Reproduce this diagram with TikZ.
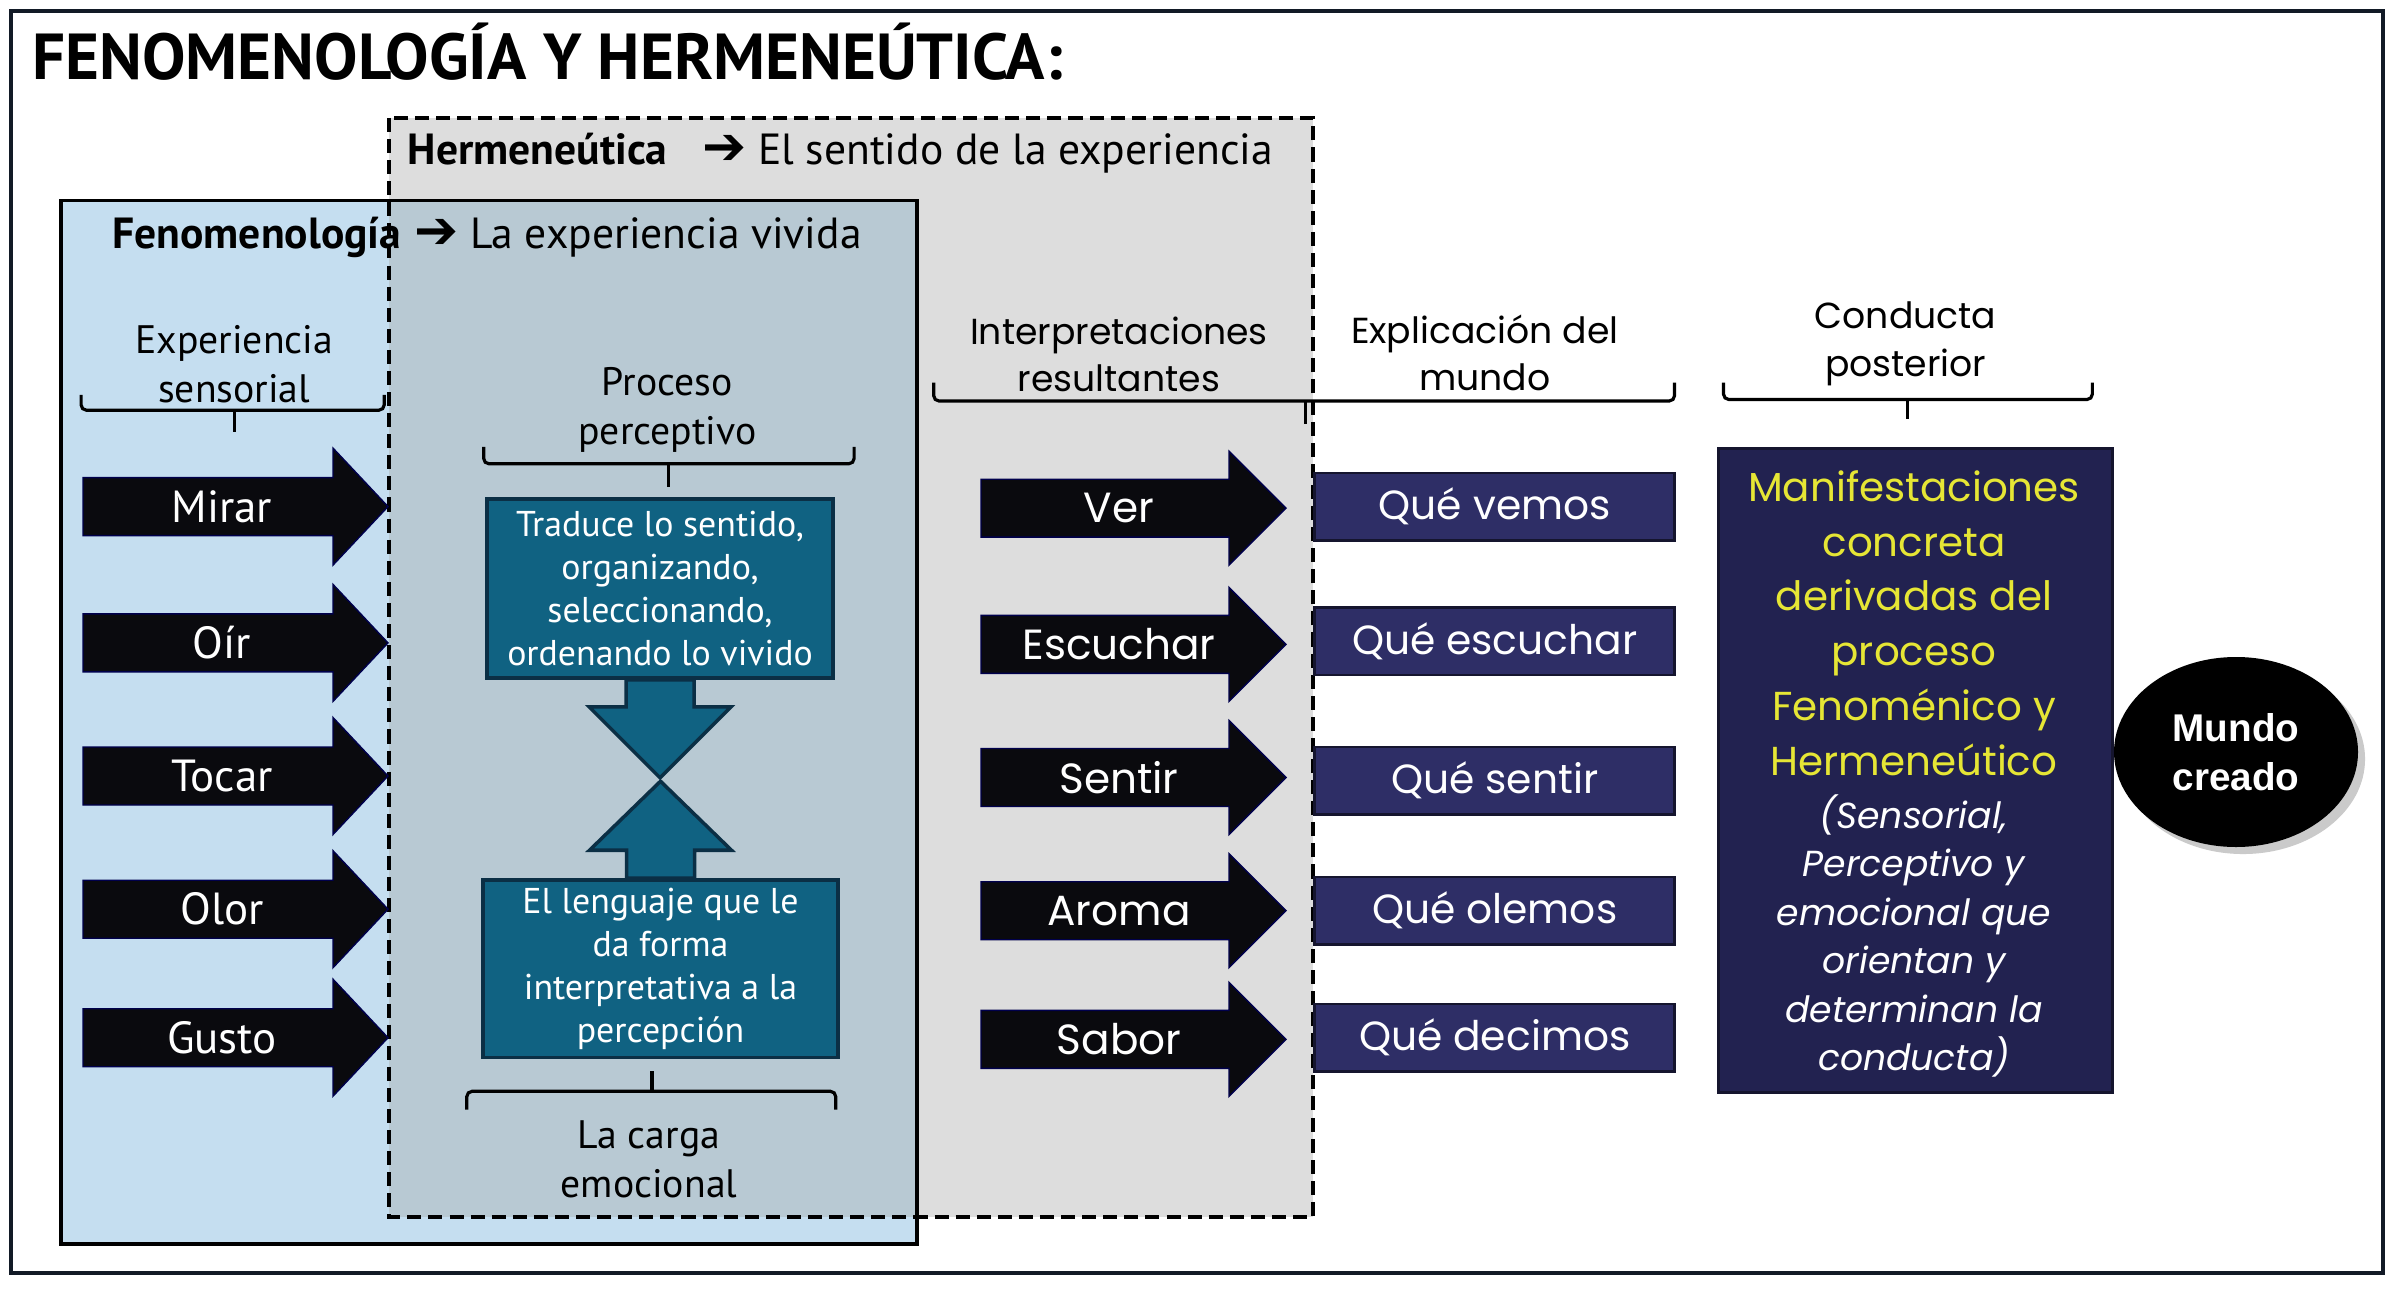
\documentclass[tikz,border=0pt]{standalone}
\usepackage{fontspec}
\setmainfont{PT Sans}
\newfontfamily\geofont{Poppins}
\newfontfamily\roundfont{Liberation Sans}
\newfontfamily\symfont{DejaVu Sans}
\usetikzlibrary{positioning,calc,shapes.geometric,shadows}
\definecolor{fenoblue}{HTML}{C5DEF0}
\definecolor{hermgray}{HTML}{DDDDDD}
\definecolor{overlapc}{HTML}{B8C9D3}
\definecolor{tealfill}{HTML}{106282}
\definecolor{tealedge}{HTML}{0B2F45}
\definecolor{navyfill}{HTML}{2E2E66}
\definecolor{navydeep}{HTML}{222250}
\definecolor{navyedge}{HTML}{15152E}
\definecolor{lemon}{HTML}{E6E635}
\definecolor{framec}{HTML}{121A26}
\definecolor{arrowc}{HTML}{0A0A0E}
\newcommand{\rarr}{{\symfont\fontsize{15}{15}\selectfont ➔}}

\tikzset{
  lbl/.style={align=center,inner sep=0pt,font=\fontsize{11.3}{13.9}\selectfont},
  geolbl/.style={align=center,inner sep=0pt,font=\geofont\fontsize{10.3}{13.6}\selectfont},
  sensetxt/.style={text=white,inner sep=0pt,font=\fontsize{12.8}{14}\selectfont},
  interptxt/.style={text=white,inner sep=0pt,font=\geofont\fontsize{12}{14}\selectfont},
  blockarrow/.style={fill=arrowc,draw=black!70!blue,line width=0.4pt},
  tealbox/.style={fill=tealfill,draw=tealedge,line width=1pt,text=white,align=center,
    inner sep=0pt,font=\fontsize{10.2}{12.2}\selectfont},
  tealshape/.style={fill=tealfill,draw=tealedge,line width=1pt},
  worldbox/.style={fill=navyfill,draw=navyedge,line width=0.8pt,text=white,
    font=\geofont\fontsize{11.6}{14}\selectfont,minimum width=3.597cm,minimum height=0.673cm,inner sep=0pt},
  bracket/.style={line width=0.9pt,rounded corners=1.5pt},
}

\begin{document}
\begin{tikzpicture}
\useasboundingbox (0,0) rectangle (24,-13.08);
\draw[line width=1.3pt,framec] (0.11,-0.11) rectangle (23.83,-12.73);

\node[anchor=base west,inner sep=0pt,font=\bfseries\fontsize{18.5}{20}\selectfont] (title) at (0.32,-0.80) {FENOMENOLOGÍA Y HERMENEÚTICA:};

% the two overlapping fields
\fill[hermgray] (3.888,-1.179) rectangle (13.13,-12.17);
\fill[fenoblue] (0.612,-2.005) rectangle (9.168,-12.44);
\fill[overlapc] (3.888,-2.005) rectangle (9.168,-12.17);
\draw[line width=1pt] (0.612,-2.005) rectangle (9.168,-12.44);
\draw[line width=1pt,dash pattern=on 4pt off 2pt] (3.888,-1.179) rectangle (13.13,-12.17);

\node[anchor=west,inner sep=0pt,font=\fontsize{12.4}{14}\selectfont] (hermhead) at (4.07,-1.53) {\textbf{Hermeneútica}\hspace{0.8em}\rarr{} El sentido de la experiencia};
\node[anchor=west,inner sep=0pt,font=\fontsize{12.4}{14}\selectfont] (fenohead) at (1.117,-2.37) {\textbf{Fenomenología}\hspace{0.3em}\rarr{} La experiencia vivida};

% column labels
\node[lbl] (expsens) at (2.342,-3.643) {Experiencia\\sensorial};
\node[lbl] (procper) at (6.673,-4.102) {Proceso\\perceptivo};
\node[lbl] (carga) at (6.490,-11.594) {La carga\\emocional};
\node[geolbl] (interp) at (11.189,-3.543) {Interpretaciones\\resultantes};
\node[geolbl] (explic) at (14.847,-3.528) {Explicación del\\mundo};
\node[geolbl] (conducta) at (19.056,-3.44) {Conducta\\posterior};

\draw[bracket] (0.811,-3.949) |- (3.842,-4.102) -- (3.842,-3.949);
\draw[bracket] (2.342,-4.102) -- (2.342,-4.316);
\draw[bracket] (4.837,-4.469) |- (8.541,-4.638) -- (8.541,-4.469);
\draw[bracket] (6.689,-4.638) -- (6.689,-4.867);
\draw[bracket] (4.668,-11.097) |- (8.357,-10.913) -- (8.357,-11.097);
\draw[bracket] (6.520,-10.913) -- (6.520,-10.714);
\draw[bracket] (9.337,-3.827) |- (16.745,-4.010) -- (16.745,-3.827);
\draw[bracket] (13.056,-4.010) -- (13.056,-4.240);
\draw[bracket] (17.235,-3.827) |- (20.923,-3.995) -- (20.923,-3.827);
\draw[bracket] (19.071,-3.995) -- (19.071,-4.194);

% senses
\foreach \yy/\word/\nm in {-5.066/Mirar/mirar,-6.429/Oír/oir,-7.760/Tocar/tocar,-9.092/Olor/olor,-10.377/Gusto/gusto}{
  \filldraw[blockarrow] (0.83,\yy+0.29) -- (3.33,\yy+0.29) -- (3.33,\yy+0.585) -- (3.88,\yy)
    -- (3.33,\yy-0.585) -- (3.33,\yy-0.29) -- (0.83,\yy-0.29) -- cycle;
  \node[sensetxt] (\nm) at (2.22,\yy) {\word};
}

% perceptual process
\node[tealbox,minimum width=3.46cm,minimum height=1.79cm] (traduce) at (6.60,-5.885)
  {Traduce lo sentido,\\organizando,\\seleccionando,\\ordenando lo vivido};
\node[tealbox,minimum width=3.55cm,minimum height=1.776cm] (lenguaje) at (6.605,-9.688)
  {El lenguaje que le\\da forma\\interpretativa a la\\percepción};
\filldraw[tealshape] ([xshift=-0.34cm]traduce.south) -- ++(0,-0.27) -- ++(-0.37,0) -- ++(0.71,-0.71)
  -- ++(0.71,0.71) -- ++(-0.37,0) -- ++(0,0.27) -- cycle;
\filldraw[tealshape] ([xshift=-0.34cm]lenguaje.north) -- ++(0,0.28) -- ++(-0.37,0) -- ++(0.71,0.69)
  -- ++(0.71,-0.69) -- ++(-0.37,0) -- ++(0,-0.28) -- cycle;

% interpretations and explanations
\foreach \yy/\word/\nm in {-5.082/Ver/ver,-6.444/Escuchar/escuchar,-7.775/Sentir/sentir,-9.107/Aroma/aroma,-10.393/Sabor/sabor}{
  \filldraw[blockarrow] (9.81,\yy+0.29) -- (12.29,\yy+0.29) -- (12.29,\yy+0.57) -- (12.86,\yy)
    -- (12.29,\yy-0.57) -- (12.29,\yy-0.29) -- (9.81,\yy-0.29) -- cycle;
  \node[interptxt] (\nm) at (11.19,\yy) {\word};
}
\node[worldbox] (vemos) at (14.947,-5.066) {Qué vemos};
\node[worldbox] (escuchamos) at (14.947,-6.413) {Qué escuchar};
\node[worldbox] (sentimos) at (14.947,-7.806) {Qué sentir};
\node[worldbox] (olemos) at (14.947,-9.107) {Qué olemos};
\node[worldbox] (decimos) at (14.947,-10.377) {Qué decimos};

% behaviour and world
\node[fill=navydeep,draw=navyedge,line width=0.8pt,minimum width=3.933cm,minimum height=6.443cm] (manif) at (19.155,-7.707) {};
\node[align=center,text=lemon,inner sep=0pt,font=\geofont\fontsize{11.5}{15.6}\selectfont] (manifup) at (19.14,-6.23)
  {Manifestaciones\\concreta\\derivadas del\\proceso\\Fenoménico y\\Hermeneútico};
\node[align=center,text=white,inner sep=0pt,font=\geofont\itshape\fontsize{10.3}{13.8}\selectfont] (manifdown) at (19.14,-9.36)
  {(Sensorial,\\Perceptivo y\\emocional que\\orientan y\\determinan la\\conducta)};
\node[ellipse,fill=black,minimum width=2.44cm,minimum height=1.9cm,align=center,text=white,
  font=\roundfont\bfseries\fontsize{11}{13.9}\selectfont,
  drop shadow={shadow xshift=2pt,shadow yshift=-2pt,fill=black!35,opacity=0.6}] (mundo) at (22.36,-7.52) {Mundo\\creado};
\end{tikzpicture}
\end{document}
